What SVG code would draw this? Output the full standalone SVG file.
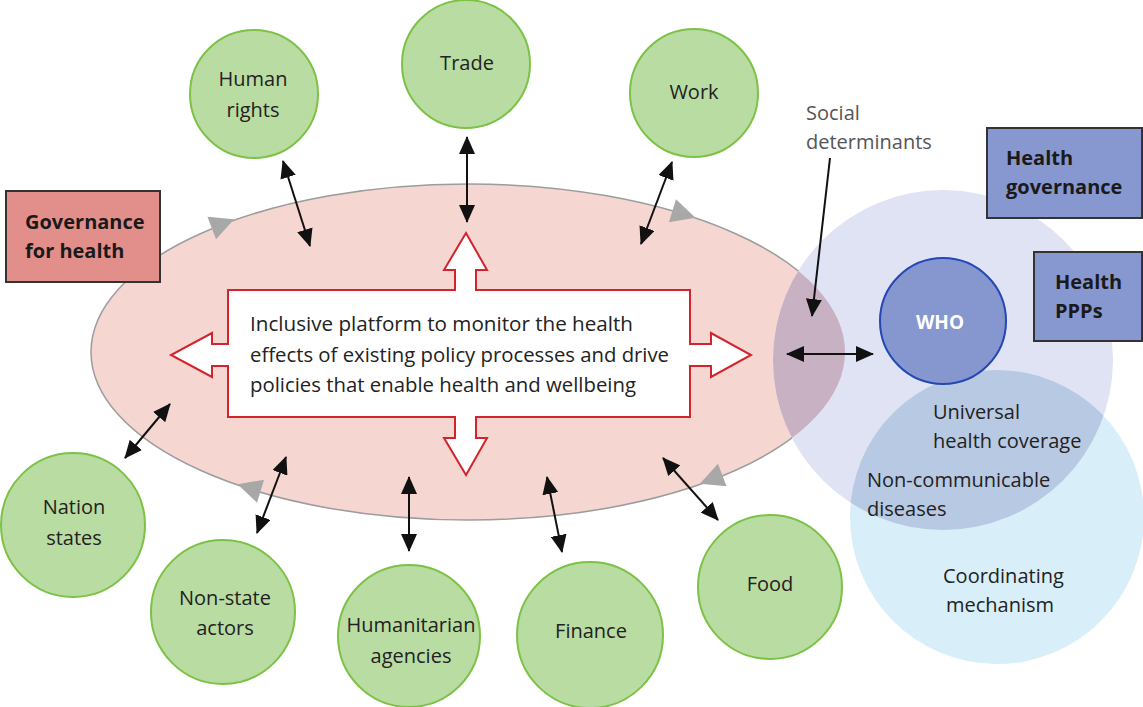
<svg xmlns="http://www.w3.org/2000/svg" xmlns:xlink="http://www.w3.org/1999/xlink" width="1143" height="707" viewBox="0 0 1143 707">
<style>
  text { font-family: "Open Sans", "Noto Sans", "Liberation Sans", sans-serif; fill: #222; }
  .lbl { font-size: 20px; text-anchor: middle; }
  .body { font-size: 20px; }
  .bold { font-size: 20px; font-weight: bold; fill: #1a1a1a; }
  .green { fill: #b9dca2; stroke: #7cc245; stroke-width: 2; }
  .conn { stroke: #111; stroke-width: 2; fill: none; marker-start: url(#ah); marker-end: url(#ah); }
</style>
<defs>
  <marker id="ah" viewBox="0 0 18 16" markerWidth="18" markerHeight="16" refX="17" refY="8" orient="auto-start-reverse" markerUnits="userSpaceOnUse">
    <path d="M0,0 L18,8 L0,16 Z" fill="#111"/>
  </marker>
  <marker id="ah1" viewBox="0 0 18 16" markerWidth="18" markerHeight="16" refX="17" refY="8" orient="auto" markerUnits="userSpaceOnUse">
    <path d="M0,0 L18,8 L0,16 Z" fill="#111"/>
  </marker>
  <path id="ga" d="M13,0 L-11,-12 L-11,12 Z" fill="#a8a8a8"/>
  <clipPath id="clipEll"><ellipse cx="468" cy="352" rx="377" ry="168"/></clipPath>
  <clipPath id="clipLight"><circle cx="997" cy="517" r="147"/></clipPath>
</defs>

<g id="governance-for-health-area">
  <ellipse cx="468" cy="352" rx="377" ry="168" fill="#f5d6d1" stroke="#9c9c9c" stroke-width="1.5"/>
  <use xlink:href="#ga" transform="translate(222,224) rotate(-21)"/>
  <use xlink:href="#ga" transform="translate(683,214) rotate(17)"/>
  <use xlink:href="#ga" transform="translate(712,479) rotate(159)"/>
  <use xlink:href="#ga" transform="translate(250,488) rotate(197)"/>
</g>

<g id="health-governance-area">
  <circle cx="943" cy="360" r="170" fill="#dfe3f4"/>
  <circle cx="943" cy="360" r="170" fill="#c8b1c3" clip-path="url(#clipEll)"/>
  <circle cx="997" cy="517" r="147" fill="#d8eef9"/>
  <circle cx="943" cy="360" r="170" fill="#b8c9e3" clip-path="url(#clipLight)"/>
  <text class="body" x="933" y="419">Universal</text>
  <text class="body" x="933" y="448">health coverage</text>
  <text class="body" x="867" y="487">Non-communicable</text>
  <text class="body" x="867" y="516">diseases</text>
  <text class="body" x="943" y="583">Coordinating</text>
  <text class="body" x="946" y="612">mechanism</text>
</g>

<g id="platform">
  <polygon fill="#ffffff" stroke="#d3232c" stroke-width="2" stroke-linejoin="miter"
    points="228,290 455,290 455,270 444,270 466,233 487,270 476,270 476,290 690,290 690,344 711,344 711,333 751,355 711,377 711,366 690,366 690,417 476,417 476,438 487,438 466,475 444,438 455,438 455,417 228,417 228,366 212,366 212,377 171,355 212,333 212,344 228,344"/>
  <text class="body" x="250" y="331" textLength="383" lengthAdjust="spacingAndGlyphs">Inclusive platform to monitor the health</text>
  <text class="body" x="250" y="362" textLength="419" lengthAdjust="spacingAndGlyphs">effects of existing policy processes and drive</text>
  <text class="body" x="250" y="392" textLength="386" lengthAdjust="spacingAndGlyphs">policies that enable health and wellbeing</text>
</g>

<g id="connectors">
  <line class="conn" x1="283" y1="161" x2="310" y2="246"/>
  <line class="conn" x1="467" y1="137" x2="467" y2="222"/>
  <line class="conn" x1="672" y1="162" x2="641" y2="244"/>
  <line class="conn" x1="170" y1="404" x2="125" y2="458"/>
  <line class="conn" x1="286" y1="457" x2="257" y2="533"/>
  <line class="conn" x1="409" y1="477" x2="409" y2="551"/>
  <line class="conn" x1="547" y1="477" x2="562" y2="552"/>
  <line class="conn" x1="663" y1="458" x2="718" y2="520"/>
  <line class="conn" x1="787" y1="354" x2="873" y2="354"/>
  <line x1="830" y1="158" x2="812" y2="316" stroke="#111" stroke-width="2" marker-end="url(#ah1)"/>
</g>

<g id="social-determinants">
  <text x="806" y="120" style="font-size:20px;fill:#555">Social</text>
  <text x="806" y="149" style="font-size:20px;fill:#555">determinants</text>
</g>

<g id="human-rights">
  <circle class="green" cx="254" cy="94" r="64"/>
  <text class="lbl" x="253" y="86">Human</text>
  <text class="lbl" x="253" y="117">rights</text>
</g>
<g id="trade">
  <circle class="green" cx="466" cy="64" r="64"/>
  <text class="lbl" x="467" y="70">Trade</text>
</g>
<g id="work">
  <circle class="green" cx="694" cy="93" r="64"/>
  <text class="lbl" x="694" y="99">Work</text>
</g>
<g id="nation-states">
  <circle class="green" cx="73" cy="525" r="72"/>
  <text class="lbl" x="74" y="514">Nation</text>
  <text class="lbl" x="74" y="545">states</text>
</g>
<g id="non-state-actors">
  <circle class="green" cx="223" cy="612" r="72"/>
  <text class="lbl" x="225" y="605">Non-state</text>
  <text class="lbl" x="225" y="635">actors</text>
</g>
<g id="humanitarian-agencies">
  <circle class="green" cx="409" cy="636" r="71"/>
  <text class="lbl" x="411" y="632">Humanitarian</text>
  <text class="lbl" x="411" y="663">agencies</text>
</g>
<g id="finance">
  <circle class="green" cx="590" cy="635" r="73"/>
  <text class="lbl" x="591" y="638">Finance</text>
</g>
<g id="food">
  <circle class="green" cx="770" cy="587" r="72"/>
  <text class="lbl" x="770" y="591">Food</text>
</g>

<g id="who">
  <circle cx="943" cy="321" r="63" fill="#8696cf" stroke="#2547b5" stroke-width="2"/>
  <text x="940" y="329" style="font-size:19px;font-weight:bold;fill:#ffffff;text-anchor:middle">WHO</text>
</g>

<g id="governance-for-health-box">
  <rect x="6" y="191" width="154" height="91" fill="#e28f8c" stroke="#333" stroke-width="2"/>
  <text class="bold" x="25" y="229">Governance</text>
  <text class="bold" x="25" y="258">for health</text>
</g>
<g id="health-governance-box">
  <rect x="987" y="128" width="155" height="90" fill="#8797cf" stroke="#333" stroke-width="2"/>
  <text class="bold" x="1006" y="165">Health</text>
  <text class="bold" x="1006" y="194">governance</text>
</g>
<g id="health-ppps-box">
  <rect x="1034" y="252" width="108" height="89" fill="#8797cf" stroke="#333" stroke-width="2"/>
  <text class="bold" x="1055" y="289">Health</text>
  <text class="bold" x="1055" y="318">PPPs</text>
</g>
</svg>
